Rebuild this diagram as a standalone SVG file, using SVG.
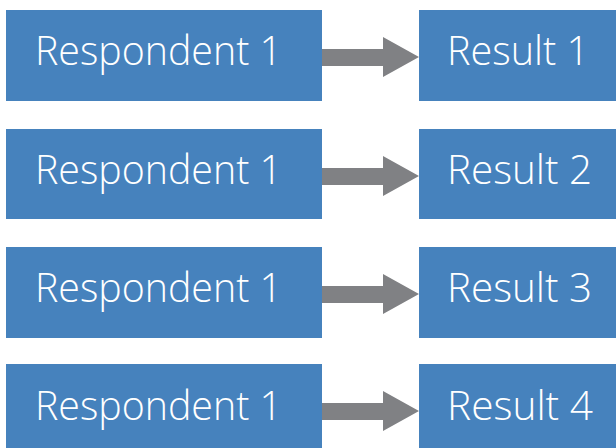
<svg xmlns="http://www.w3.org/2000/svg" width="616" height="448" viewBox="0 0 616 448">
<style>
.box{fill:#4682bd}
.t{font-family:"Open Sans","Liberation Sans",sans-serif;font-weight:300;font-size:41px;fill:#ffffff}
.arr{fill:#808184}
</style>
<defs>
<path id="a" d="M322,49 H383 V37 L419,57 L383,77 V66 H322 Z"/>
</defs>
<g id="connectors">
<use href="#a" class="arr"/>
<use href="#a" class="arr" y="119"/>
<use href="#a" class="arr" y="237"/>
<use href="#a" class="arr" y="354"/>
</g>
<g id="r1"><rect class="box" x="6" y="10" width="316" height="91"/><text class="t" x="35" y="65" textLength="247" lengthAdjust="spacingAndGlyphs">Respondent 1</text></g>
<g id="s1"><rect class="box" x="419" y="10" width="197" height="91"/><text class="t" x="447" y="65" textLength="142" lengthAdjust="spacingAndGlyphs">Result 1</text></g>
<g id="r2"><rect class="box" x="6" y="129" width="316" height="90"/><text class="t" x="35" y="184" textLength="247" lengthAdjust="spacingAndGlyphs">Respondent 1</text></g>
<g id="s2"><rect class="box" x="419" y="129" width="197" height="90"/><text class="t" x="447" y="184" textLength="145" lengthAdjust="spacingAndGlyphs">Result 2</text></g>
<g id="r3"><rect class="box" x="6" y="247" width="316" height="91"/><text class="t" x="35" y="302" textLength="247" lengthAdjust="spacingAndGlyphs">Respondent 1</text></g>
<g id="s3"><rect class="box" x="419" y="247" width="197" height="91"/><text class="t" x="447" y="302" textLength="145" lengthAdjust="spacingAndGlyphs">Result 3</text></g>
<g id="r4"><rect class="box" x="6" y="364" width="316" height="84"/><text class="t" x="35" y="420" textLength="247" lengthAdjust="spacingAndGlyphs">Respondent 1</text></g>
<g id="s4"><rect class="box" x="419" y="364" width="197" height="84"/><text class="t" x="447" y="420" textLength="146" lengthAdjust="spacingAndGlyphs">Result 4</text></g>
</svg>
